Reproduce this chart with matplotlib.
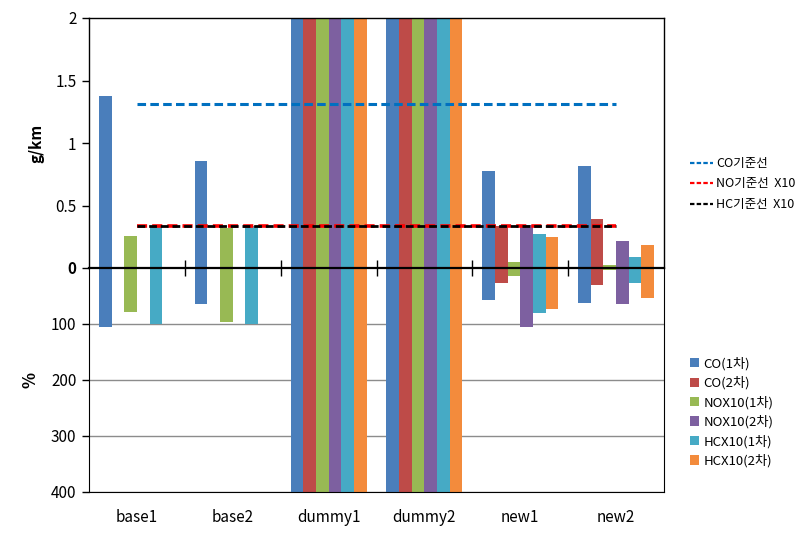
import matplotlib
matplotlib.use("Agg")
import matplotlib.pyplot as plt
from matplotlib.lines import Line2D
from matplotlib.patches import Patch
import numpy as np

plt.rcParams['font.family'] = ['Noto Sans CJK KR', 'DejaVu Sans']

categories = ['base1', 'base2', 'dummy1', 'dummy2', 'new1', 'new2']
series_names = ['CO(1차)', 'CO(2차)', 'NOX10(1차)', 'NOX10(2차)', 'HCX10(1차)', 'HCX10(2차)']
colors = ['#4A7EBB', '#BE4B48', '#98B954', '#7D60A0', '#46AAC5', '#F38B3C']

nan = np.nan
# g/km values (top panel)
co1_gkm = [1.38, 0.86, 2.0, 2.0, 0.78, 0.82]
co2_gkm = [nan, nan, 2.0, 2.0, 0.34, 0.39]
nox1_gkm = [0.26, 0.32, 2.0, 2.0, 0.045, 0.025]
nox2_gkm = [nan, nan, 2.0, 2.0, 0.345, 0.22]
hc1_gkm = [0.335, 0.335, 2.0, 2.0, 0.27, 0.09]
hc2_gkm = [nan, nan, 2.0, 2.0, 0.245, 0.185]
# % values (bottom panel)
co1_pct = [105, 65, 400, 400, 58, 62]
co2_pct = [nan, nan, 400, 400, 26, 30]
nox1_pct = [78, 96, 400, 400, 15, 4]
nox2_pct = [nan, nan, 400, 400, 106, 65]
hc1_pct = [100, 100, 400, 400, 80, 26]
hc2_pct = [nan, nan, 400, 400, 73, 53]

# standard lines
co_std = [1.31] * 6
no_std = [0.335] * 6
hc_std = [0.335] * 6

gkm = [co1_gkm, co2_gkm, nox1_gkm, nox2_gkm, hc1_gkm, hc2_gkm]
pct = [co1_pct, co2_pct, nox1_pct, nox2_pct, hc1_pct, hc2_pct]

W, H = 800, 536
fig = plt.figure(figsize=(W / 100, H / 100), dpi=100)
L, R = 89, 664
ax_bot = fig.add_axes([L / W, (H - 492) / H, (R - L) / W, (492 - 268) / H])
ax_top = fig.add_axes([L / W, (H - 268) / H, (R - L) / W, (268 - 18) / H])
ax_bot.patch.set_visible(False)
ax_top.patch.set_visible(False)
ax_top.set_zorder(3)
ax_bot.set_zorder(2)

x = np.arange(len(categories))
bw = 0.132
for i in range(6):
    off = (i - 2.5) * bw
    ax_top.bar(x + off, gkm[i], width=bw, color=colors[i], zorder=2)
    ax_bot.bar(x + off, pct[i], width=bw, color=colors[i], zorder=2)

ls = (0, (2.8, 1.4))
ax_top.plot(x, co_std, color='#0070C0', lw=2.2, linestyle=ls, zorder=3)
ax_top.plot(x, no_std, color='#FF0000', lw=2.6, linestyle=ls, zorder=3)
ax_top.plot(x, hc_std, color='#000000', lw=2.0, linestyle=ls, zorder=4)

for ax in (ax_top, ax_bot):
    ax.set_xlim(-0.5, 5.5)

ax_top.set_ylim(0, 2)
ax_top.set_yticks([0, 0.5, 1, 1.5, 2])
ax_top.set_yticklabels(['0', '0.5', '1', '1.5', '2'], fontsize=11)
ax_top.get_yticklabels()[0].set_fontweight('bold')
ax_top.tick_params(axis='y', direction='out', length=5, width=1, pad=4)
ax_top.set_xticks(np.arange(0.5, 5.5, 1))
ax_top.set_xticklabels([])
ax_top.tick_params(axis='x', direction='inout', length=12, width=1)
ax_top.spines['bottom'].set_linewidth(1.6)
for s in ('left', 'top', 'right'):
    ax_top.spines[s].set_linewidth(1.0)
ax_top.set_ylabel('g/km', fontsize=11, fontweight='bold', labelpad=8)

ax_bot.set_ylim(400, 0)
ax_bot.set_yticks([100, 200, 300, 400])
ax_bot.set_yticklabels(['100', '200', '300', '400'], fontsize=11)
ax_bot.tick_params(axis='y', direction='out', length=5, width=1, pad=4)
ax_bot.set_xticks(x)
ax_bot.set_xticklabels(categories, fontsize=11)
ax_bot.tick_params(axis='x', length=0, pad=12)
ax_bot.spines['top'].set_visible(False)
ax_bot.set_axisbelow(True)
ax_bot.yaxis.grid(True, color='#8C8C8C', lw=1)
ax_bot.set_ylabel('%', fontsize=12, fontweight='bold', labelpad=8)

line_handles = [
    Line2D([0], [0], color='#0070C0', lw=1.6, linestyle=(0, (2, 1))),
    Line2D([0], [0], color='#FF0000', lw=1.6, linestyle=(0, (2, 1))),
    Line2D([0], [0], color='#000000', lw=1.6, linestyle=(0, (2, 1))),
]
fig.legend(line_handles, ['CO기준선', 'NO기준선  X10', 'HC기준선  X10'],
           loc='upper left', bbox_to_anchor=(690 / W, 1 - 157 / H),
           frameon=False, fontsize=9, handlelength=1.8, handletextpad=0.3,
           labelspacing=0.6, borderaxespad=0, borderpad=0)

bar_handles = [Patch(facecolor=c) for c in colors]
fig.legend(bar_handles, series_names,
           loc='upper left', bbox_to_anchor=(690 / W, 1 - 357 / H),
           frameon=False, fontsize=9.5, handlelength=0.7, handleheight=0.7,
           handletextpad=0.3, labelspacing=0.45, borderaxespad=0, borderpad=0)

fig.savefig('out.png', dpi=100)
